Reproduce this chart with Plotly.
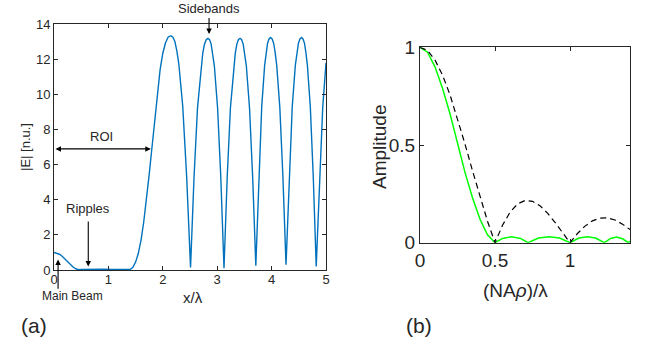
import plotly.graph_objects as go

# ---------------- data: panel (a) ----------------
x_lambda = [0, 0.05, 0.1, 0.15, 0.2, 0.25, 0.3, 0.35, 0.4, 0.45, 0.5, 0.6, 0.75, 0.9, 1.05, 1.2, 1.3, 1.4,
            1.45, 1.5, 1.55, 1.6, 1.65, 1.7, 1.75, 1.8, 1.85, 1.9, 1.95, 2.0, 2.05, 2.1, 2.15,
            2.186, 2.222, 2.258, 2.294, 2.366, 2.438, 2.51,
            2.574, 2.638, 2.702, 2.734, 2.766, 2.798, 2.83, 2.86, 2.889, 2.918, 2.948, 3.007, 3.066, 3.125,
            3.184, 3.243, 3.302, 3.332, 3.361, 3.39, 3.42, 3.449, 3.478, 3.507, 3.536, 3.594, 3.652, 3.71,
            3.764, 3.818, 3.872, 3.899, 3.926, 3.953, 3.98, 4.009, 4.037, 4.066, 4.094, 4.151, 4.208, 4.265,
            4.322, 4.379, 4.436, 4.465, 4.493, 4.522, 4.55, 4.577, 4.604, 4.631, 4.658, 4.712, 4.766, 4.82,
            4.88, 4.94, 5.0]
E_abs = [1.0, 0.97, 0.9, 0.78, 0.63, 0.47, 0.31, 0.17, 0.07, 0.02, 0.03, 0.04, 0.03, 0.04, 0.03, 0.04, 0.03, 0.03,
         0.15, 0.45, 0.95, 1.7, 2.75, 4.0, 5.45, 6.95, 8.55, 10.1, 11.4, 12.35, 12.95, 13.28, 13.35,
         13.27, 13.02, 12.48, 11.75, 9.35, 5.34, 0.15,
         5.28, 9.24, 11.62, 12.34, 12.87, 13.12, 13.2, 13.12, 12.87, 12.34, 11.62, 9.24, 5.28, 0.1,
         5.28, 9.24, 11.62, 12.34, 12.87, 13.12, 13.2, 13.12, 12.87, 12.34, 11.62, 9.24, 5.28, 0.25,
         5.3, 9.28, 11.66, 12.39, 12.92, 13.17, 13.25, 13.17, 12.92, 12.39, 11.66, 9.28, 5.3, 0.3,
         5.3, 9.28, 11.66, 12.39, 12.92, 13.17, 13.25, 13.17, 12.92, 12.39, 11.66, 9.28, 5.3, 0.2,
         5.3, 9.28, 11.8]
xa_ticks = [0, 1, 2, 3, 4, 5]
ya_ticks = [0, 2, 4, 6, 8, 10, 12, 14]

# ---------------- data: panel (b) ----------------
rho_dash = [0, 0.05, 0.1, 0.15, 0.2, 0.25, 0.3, 0.35, 0.4, 0.45, 0.5, 0.55, 0.6, 0.65, 0.7, 0.75,
            0.8, 0.85, 0.9, 0.95, 1.0, 1.05, 1.1, 1.15, 1.2, 1.25, 1.3, 1.35, 1.4]
amp_dash = [1.0, 0.984, 0.935, 0.858, 0.757, 0.637, 0.505, 0.368, 0.234, 0.11, 0.0, 0.089, 0.156, 0.198,
            0.216, 0.212, 0.189, 0.151, 0.104, 0.052, 0.0, 0.047, 0.085, 0.112, 0.126, 0.127, 0.116, 0.095, 0.067]
rho_green = [0, 0.05, 0.1, 0.15, 0.2, 0.25, 0.3, 0.35, 0.4, 0.45, 0.5, 0.55, 0.61, 0.67, 0.72,
             0.79, 0.86, 0.93, 1.0, 1.06, 1.115, 1.17, 1.23, 1.27, 1.31, 1.35, 1.39, 1.4]
amp_green = [1.0, 0.975, 0.9, 0.79, 0.66, 0.51, 0.36, 0.23, 0.12, 0.04, 0.0, 0.022, 0.03, 0.022, 0.0,
             0.024, 0.031, 0.024, 0.0, 0.024, 0.031, 0.024, 0.0, 0.022, 0.029, 0.02, 0.0, 0.008]
xb_ticks = [0, 0.5, 1]
yb_ticks = [0, 0.5, 1]

W, H = 650, 345
FONT = "Liberation Sans, Arial, Helvetica, sans-serif"
TXT = "#262626"


def px(x):
    return x / W


def py(y):
    return 1 - y / H


fig = go.Figure()
fig.add_trace(go.Scatter(x=x_lambda, y=E_abs, mode="lines", line=dict(color="#0072BD", width=1.4),
                         xaxis="x", yaxis="y", showlegend=False))
fig.add_trace(go.Scatter(x=rho_green, y=amp_green, mode="lines", line=dict(color="#00FF00", width=1.5),
                         xaxis="x2", yaxis="y2", showlegend=False))
fig.add_trace(go.Scatter(x=rho_dash, y=amp_dash, mode="lines",
                         line=dict(color="black", width=1.2, dash="6px,4px"),
                         xaxis="x2", yaxis="y2", showlegend=False))

axis_common = dict(showgrid=False, zeroline=False, showline=True, linecolor=TXT, linewidth=1,
                   ticks="inside", ticklen=4, tickcolor=TXT, mirror="allticks", automargin=False)

fig.update_layout(
    width=W, height=H,
    margin=dict(l=0, r=0, t=0, b=0, autoexpand=False),
    paper_bgcolor="white", plot_bgcolor="white",
    font=dict(family=FONT, color=TXT),
    xaxis=dict(domain=[px(54), px(326)], range=[0, 5], tickvals=xa_ticks, ticklabelstandoff=-3,
               tickfont=dict(size=13), anchor="y", **axis_common),
    yaxis=dict(domain=[py(270), py(24.3)], range=[0, 14], tickvals=ya_ticks,
               tickfont=dict(size=13), anchor="x", **axis_common),
    xaxis2=dict(domain=[px(420), px(630)], range=[0, 1.4], tickvals=xb_ticks,
                ticktext=["0", "0.5", "1"],
                tickfont=dict(size=19), anchor="y2", **axis_common),
    yaxis2=dict(domain=[py(242.7), py(47.3)], range=[0, 1], tickvals=yb_ticks,
                ticktext=["0", "0.5", "1"],
                tickfont=dict(size=19), anchor="x2", **axis_common),
)

ann = []
C = dict(xanchor="center", yanchor="middle", showarrow=False)
# axis titles & labels (paper coords)
ann.append(dict(text="|E| [n.u.]", x=px(25), y=py(147), xref="paper", yref="paper", textangle=-90,
                font=dict(size=13), **C))
ann.append(dict(text="x/λ", x=px(193), y=py(297), xref="paper", yref="paper",
                font=dict(size=15), **C))
ann.append(dict(text="Main Beam", x=px(72), y=py(296), xref="paper", yref="paper",
                font=dict(size=12), **C))
ann.append(dict(text="(a)", x=px(34), y=py(325), xref="paper", yref="paper",
                font=dict(size=21), **C))
ann.append(dict(text="(b)", x=px(419), y=py(325), xref="paper", yref="paper",
                font=dict(size=21), **C))
ann.append(dict(text="Amplitude", x=px(379), y=py(147), xref="paper", yref="paper", textangle=-90,
                font=dict(size=19), **C))
ann.append(dict(text="(NA<i>ρ</i>)/λ", x=px(515), y=py(290), xref="paper", yref="paper",
                font=dict(size=19), **C))
ann.append(dict(text="Sidebands", x=px(209), y=py(9), xref="paper", yref="paper",
                font=dict(size=13), **C))
ann.append(dict(text="ROI", x=0.88, y=7.6, xref="x", yref="y", font=dict(size=13), **C))
ann.append(dict(text="Ripples", x=0.63, y=3.5, xref="x", yref="y", font=dict(size=13), **C))

# arrows (data coords)
arrow_style = dict(showarrow=True, arrowhead=2, arrowsize=1, arrowwidth=1.1, arrowcolor="black", text="")
ann.append(dict(x=0.075, y=0.6, ax=0.075, ay=-1.15, xref="x", yref="y", axref="x", ayref="y", **arrow_style))
ann.append(dict(x=0.63, y=0.2, ax=0.63, ay=2.85, xref="x", yref="y", axref="x", ayref="y", **arrow_style))
ann.append(dict(x=2.85, y=13.45, ax=2.85, ay=14.45, xref="x", yref="y", axref="x", ayref="y", **arrow_style))
ann.append(dict(x=1.78, y=6.9, ax=0.0, ay=6.9, xref="x", yref="y", axref="x", ayref="y",
                arrowside="end+start", startarrowhead=2, **arrow_style))

fig.update_layout(annotations=ann)
fig.write_html("out.html")
